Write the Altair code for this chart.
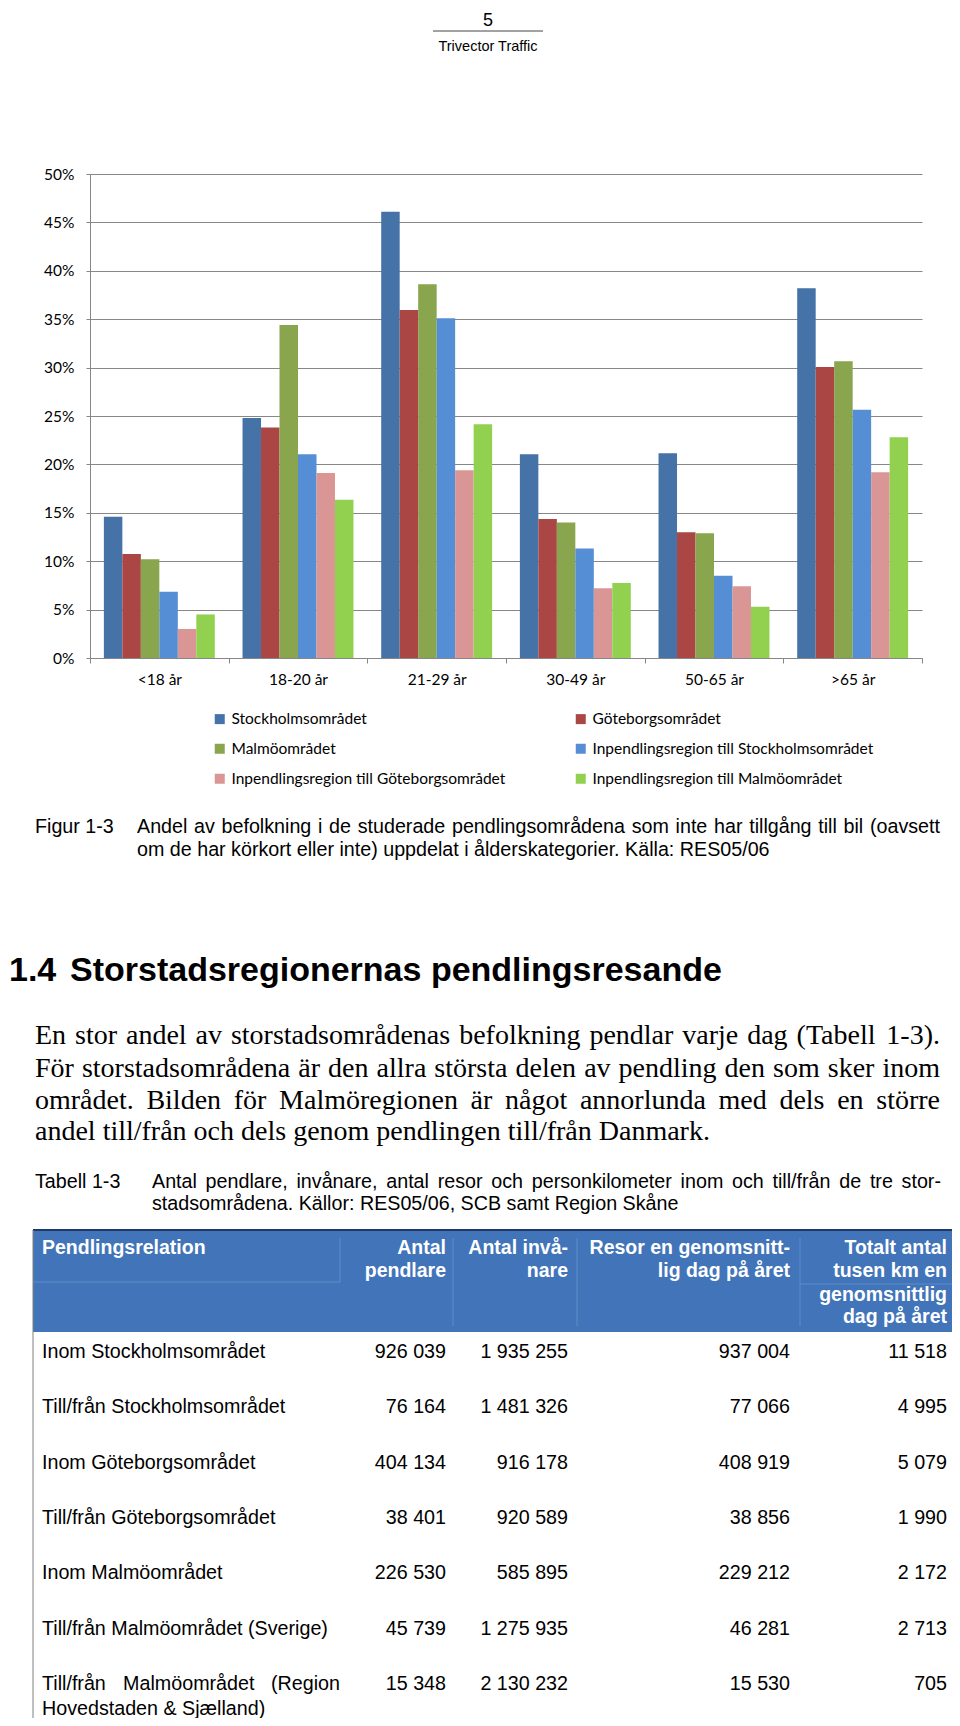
import altair as alt
import pandas as pd

# ---------------- data ----------------
ages = ["<18 år", "18-20 år", "21-29 år", "30-49 år", "50-65 år", ">65 år"]
series = ["Stockholmsområdet", "Göteborgsområdet", "Malmöområdet",
          "Inpendlingsregion till Stockholmsområdet",
          "Inpendlingsregion till Göteborgsområdet",
          "Inpendlingsregion till Malmöområdet"]
stockholm = [14.6, 24.8, 46.1, 21.05, 21.15, 38.2]
goteborg = [10.75, 23.8, 35.95, 14.35, 13.0, 30.05]
malmo = [10.2, 34.4, 38.6, 14.0, 12.9, 30.65]
inp_sthlm = [6.85, 21.05, 35.1, 11.3, 8.5, 25.65]
inp_gbg = [3.0, 19.1, 19.4, 7.2, 7.4, 19.2]
inp_malmo = [4.5, 16.35, 24.15, 7.75, 5.3, 22.8]
y_ticks = [0, 5, 10, 15, 20, 25, 30, 35, 40, 45, 50]
colors = ["#4572A7", "#AA4643", "#89A54E", "#558ED5", "#D99694", "#92D050"]

relations = ["Inom Stockholmsområdet", "Till/från Stockholmsområdet",
             "Inom Göteborgsområdet", "Till/från Göteborgsområdet",
             "Inom Malmöområdet", "Till/från Malmöområdet (Sverige)",
             "Till/från Malmöområdet (Region Hovedstaden & Sjælland)"]
pendlare = ["926 039", "76 164", "404 134", "38 401", "226 530", "45 739", "15 348"]
invanare = ["1 935 255", "1 481 326", "916 178", "920 589", "585 895", "1 275 935", "2 130 232"]
resor = ["937 004", "77 066", "408 919", "38 856", "229 212", "46 281", "15 530"]
km = ["11 518", "4 995", "5 079", "1 990", "2 172", "2 713", "705"]
header_cols = [["Pendlingsrelation"], ["Antal", "pendlare"], ["Antal invå-", "nare"],
               ["Resor en genomsnitt-", "lig dag på året"],
               ["Totalt antal", "tusen km en", "genomsnittlig", "dag på året"]]

caption_lines = ["Andel av befolkning i de studerade pendlingsområdena som inte har tillgång till bil (oavsett",
                 "om de har körkort eller inte) uppdelat i ålderskategorier. Källa: RES05/06"]
body_lines = ["En stor andel av storstadsområdenas befolkning pendlar varje dag (Tabell 1-3).",
              "För storstadsområdena är den allra största delen av pendling den som sker inom",
              "området. Bilden för Malmöregionen är något annorlunda med dels en större",
              "andel till/från och dels genom pendlingen till/från Danmark."]
tab_caption_lines = ["Antal pendlare, invånare, antal resor och personkilometer inom och till/från de tre stor-",
                     "stadsområdena. Källor: RES05/06, SCB samt Region Skåne"]

# ---------------- layout helpers ----------------
OX, OY = 90, 174          # plot-area origin on the page
PW, PH = 832, 484

AR = {' ': 278, '(': 333, ')': 333, ',': 278, '-': 333, '.': 278, '/': 278, ':': 278, '&': 667, '%': 889,
      'a': 556, 'b': 556, 'c': 500, 'd': 556, 'e': 556, 'f': 278, 'g': 556, 'h': 556, 'i': 222, 'j': 222,
      'k': 500, 'l': 222, 'm': 833, 'n': 556, 'o': 556, 'p': 556, 'q': 556, 'r': 333, 's': 500, 't': 278,
      'u': 556, 'v': 500, 'w': 722, 'x': 500, 'y': 500, 'z': 500, 'å': 556, 'ä': 556, 'ö': 556, 'æ': 889,
      'A': 667, 'B': 667, 'C': 722, 'D': 722, 'E': 667, 'F': 611, 'G': 778, 'H': 722, 'I': 278, 'J': 500,
      'K': 667, 'L': 556, 'M': 833, 'N': 722, 'O': 778, 'P': 667, 'R': 722, 'S': 667, 'T': 611, 'U': 722,
      'V': 667, 'W': 944, 'Å': 667, 'Ä': 667, 'Ö': 778}
TR = {' ': 250, '(': 333, ')': 333, ',': 250, '-': 333, '.': 250, '/': 278, ':': 278,
      'a': 444, 'b': 500, 'c': 444, 'd': 500, 'e': 444, 'f': 333, 'g': 500, 'h': 500, 'i': 278, 'j': 278,
      'k': 500, 'l': 278, 'm': 778, 'n': 500, 'o': 500, 'p': 500, 'q': 500, 'r': 333, 's': 389, 't': 278,
      'u': 500, 'v': 500, 'w': 722, 'x': 500, 'y': 500, 'z': 444, 'å': 444, 'ä': 444, 'ö': 500,
      'A': 722, 'B': 667, 'C': 667, 'D': 722, 'E': 611, 'F': 556, 'G': 722, 'H': 722, 'I': 333, 'M': 889,
      'S': 556, 'T': 611, 'Ö': 722}


def tw(s, table, size, dflt):
    return sum(table.get(ch, dflt) for ch in s) * size / 1000.0


def line_items(s, x0, y, table, size, x1=None, dflt=556):
    if x1 is None:
        return [(s, x0 - OX, y - OY)]
    words = s.split(' ')
    ws = [tw(w, table, size, dflt) for w in words]
    gap = (x1 - x0 - sum(ws)) / max(len(words) - 1, 1)
    out, x = [], x0
    for w, wd in zip(words, ws):
        out.append((w, x - OX, y - OY))
        x += wd + gap
    return out


def text_layer(items, font, size, weight='normal', align='left', color='#000000', baseline='middle'):
    df = pd.DataFrame(items, columns=['text', 'px', 'py'])
    return alt.Chart(df).mark_text(font=font, fontSize=size, fontWeight=weight, align=align,
                                   baseline=baseline, color=color).encode(
        x=alt.X('px:Q', scale=None, axis=None),
        y=alt.Y('py:Q', scale=None, axis=None),
        text='text:N')


ONE = pd.DataFrame({'k': [0]})


def rule(x1, y1, x2, y2, color, width=1.0):
    return alt.Chart(ONE).mark_rule(color=color, strokeWidth=width).encode(
        x=alt.value(x1 - OX), x2=alt.value(x2 - OX), y=alt.value(y1 - OY), y2=alt.value(y2 - OY))


def rect(x1, y1, x2, y2, color):
    return alt.Chart(ONE).mark_rect(color=color).encode(
        x=alt.value(x1 - OX), x2=alt.value(x2 - OX), y=alt.value(y1 - OY), y2=alt.value(y2 - OY))


SANS = 'Liberation Sans'
SERIF = 'Liberation Serif'
CHART_FONT = 'Lato'
GRID = '#878787'

# ---------------- bar chart ----------------
vals = [stockholm, goteborg, malmo, inp_sthlm, inp_gbg, inp_malmo]
rows = []
for s, v in zip(series, vals):
    for a, x in zip(ages, v):
        rows.append({'age': a, 'series': s, 'value': x})
bar_df = pd.DataFrame(rows)

# legend is filled column by column: order the colour domain so it reads row by row
legend_order = [series[0], series[2], series[4], series[1], series[3], series[5]]
legend_colors = [colors[series.index(s)] for s in legend_order]

bars = alt.Chart(bar_df).mark_bar().encode(
    x=alt.X('age:N', sort=ages, scale=alt.Scale(paddingInner=0, paddingOuter=0),
            axis=alt.Axis(title=None, tickBand='extent', grid=False, domainColor=GRID, tickColor=GRID,
                          tickSize=5, labelFont=CHART_FONT, labelFontSize=15.5, labelColor='#000000',
                          labelAngle=0, labelBaseline='middle', labelPadding=16)),
    xOffset=alt.XOffset('series:N', sort=series, scale=alt.Scale(paddingInner=0, paddingOuter=0.75)),
    y=alt.Y('value:Q', stack=None, scale=alt.Scale(domain=[0, 50], nice=False),
            axis=alt.Axis(title=None, values=y_ticks, labelExpr="datum.value + '%'", grid=True,
                          gridColor=GRID, gridWidth=1, domainColor=GRID, tickColor=GRID, tickSize=4,
                          labelPadding=12, labelFont=CHART_FONT, labelFontSize=15.5, labelColor='#000000')),
    color=alt.Color('series:N', scale=alt.Scale(domain=legend_order, range=legend_colors),
                    legend=alt.Legend(title=None, orient='none', legendX=122, legendY=537, columns=2,
                                      columnPadding=67, rowPadding=13, symbolType='square', symbolSize=100,
                                      symbolStrokeWidth=0, labelFont=CHART_FONT, labelFontSize=15.5,
                                      labelColor='#000000', labelLimit=0, padding=0, labelOffset=4))
)

layers = [bars]

# ---------------- page header ----------------
layers.append(text_layer([('5', 488 - OX, 26 - OY)], SANS, 18, align='center', baseline='alphabetic'))
layers.append(rule(433, 31, 543, 31, '#444444', 1))
layers.append(text_layer([('Trivector Traffic', 488 - OX, 47 - OY)], SANS, 14.5, align='center'))

# ---------------- figure caption ----------------
cap = [('Figur 1-3', 35 - OX, 827 - OY)]
cap += line_items(caption_lines[0], 137, 827, AR, 19.7, x1=940)
cap += line_items(caption_lines[1], 137, 850, AR, 19.7)
layers.append(text_layer(cap, SANS, 19.7))

# ---------------- heading ----------------
layers.append(text_layer([('1.4', 9 - OX, 971 - OY),
                          ('Storstadsregionernas pendlingsresande', 70 - OX, 971 - OY)],
                         SANS, 34, weight='bold'))

# ---------------- body text ----------------
body = []
body_y = [1036, 1069, 1101, 1132]
for i, (ln, yy) in enumerate(zip(body_lines, body_y)):
    body += line_items(ln, 35, yy, TR, 28, x1=(940 if i < 3 else None), dflt=500)
layers.append(text_layer(body, SERIF, 28))

# ---------------- table caption ----------------
tc = [('Tabell 1-3', 35 - OX, 1182 - OY)]
tc += line_items(tab_caption_lines[0], 152, 1182, AR, 19.7, x1=941)
tc += line_items(tab_caption_lines[1], 152, 1204, AR, 19.7)
layers.append(text_layer(tc, SANS, 19.7))

# ---------------- table ----------------
T_L, T_R, T_TOP, T_HB, T_BOT = 33, 956, 1230, 1332, 1723
layers.append(rect(T_L, T_TOP, T_R, T_HB, '#4174B9'))
sep = '#5F8CC8'
layers.append(rule(340, 1238, 340, 1282, sep, 1))
layers.append(rule(T_L, 1282, 340, 1282, sep, 1))
layers.append(rule(453, 1238, 453, 1326, sep, 1))
layers.append(rule(577, 1238, 577, 1326, sep, 1))
layers.append(rule(800, 1238, 800, 1326, sep, 1))
layers.append(rule(800, 1284, T_R, 1284, sep, 1))
layers.append(rule(T_L, T_TOP, T_R, T_TOP, '#1F3A66', 2))
layers.append(rule(T_L, T_TOP, T_L, T_BOT, '#808080', 1))
layers.append(rule(T_R, T_TOP, T_R, T_BOT, '#808080', 1))
layers.append(rule(T_L, T_BOT, T_R, T_BOT, '#808080', 1))

col_right = [446, 568, 790, 947]
head_y = [1248, 1271, 1295, 1317]
hdr_left = [(header_cols[0][0], 42 - OX, head_y[0] - OY)]
hdr_right = []
for c, lines in enumerate(header_cols[1:]):
    for j, t in enumerate(lines):
        hdr_right.append((t, col_right[c] - OX, head_y[j] - OY))
layers.append(text_layer(hdr_left, SANS, 19.5, weight='bold', color='#FFFFFF'))
layers.append(text_layer(hdr_right, SANS, 19.5, weight='bold', color='#FFFFFF', align='right'))

ROW0, PITCH, LINE2 = 1352, 55.3, 25
lab_items, num_items = [], []
for i, lab in enumerate(relations):
    y = ROW0 + PITCH * i
    # wrap the relation label inside its column (justify all but last line)
    words, lines, cur = lab.split(' '), [], ''
    for w in words:
        trial = (cur + ' ' + w).strip()
        if tw(trial, AR, 19.7, 556) > 300 and cur:
            lines.append(cur)
            cur = w
        else:
            cur = trial
    lines.append(cur)
    for j, ln in enumerate(lines):
        lab_items += line_items(ln, 42, y + LINE2 * j, AR, 19.7,
                                x1=(340 if j < len(lines) - 1 else None))
    for c, col in enumerate([pendlare, invanare, resor, km]):
        num_items.append((col[i], col_right[c] - OX, y - OY))
layers.append(text_layer(lab_items, SANS, 19.7))
layers.append(text_layer(num_items, SANS, 19.7, align='right'))

chart = alt.layer(*layers).properties(
    width=PW, height=PH,
    autosize=alt.AutoSizeParams(type='none'),
    padding={'left': OX - 8, 'top': OY - 8, 'right': 944 - (OX - 8) - PW, 'bottom': 1710 - (OY - 8) - PH},
    background='#FFFFFF'
).configure_view(stroke=None)

chart.save("out.html", embed_options={"renderer": "svg", "actions": False})
